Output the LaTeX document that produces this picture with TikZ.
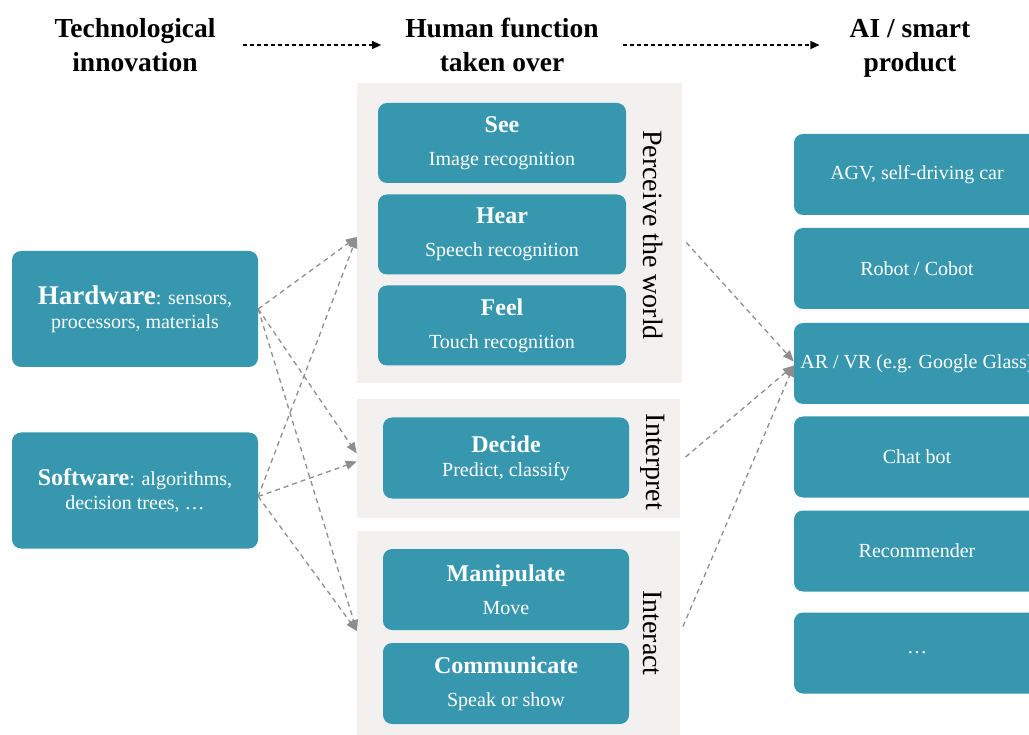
\documentclass[tikz,border=0pt]{standalone}
\usepackage{fontspec}
\setmainfont{Liberation Serif}
\usetikzlibrary{arrows.meta}
\definecolor{boxteal}{HTML}{3797AE}
\definecolor{panelgray}{HTML}{F2F1F0}
\definecolor{arrowgray}{HTML}{8E8E8E}
\tikzset{
  tealbox/.style={fill=boxteal, rounded corners=9pt, text=white, align=center,
    font=\fontsize{20}{24}\selectfont, inner sep=0pt},
  panel/.style={fill=panelgray, inner sep=0pt},
  hdr/.style={align=center, font=\fontsize{27.5}{34}\selectfont\bfseries, inner sep=0pt},
  sidelabel/.style={rotate=-90, font=\fontsize{28}{34}\selectfont, inner sep=0pt},
  hdrarrow/.style={line width=1.2pt, dash pattern=on 4pt off 3pt,
    -{Triangle[length=9pt,width=8pt]}},
  flow/.style={arrowgray, line width=1.3pt, dash pattern=on 5pt off 4pt,
    -{Triangle[length=11pt,width=9pt]}},
}
\newcommand{\boxtitle}[1]{{\fontsize{24}{29}\selectfont\bfseries #1}}
\begin{document}
\begin{tikzpicture}[x=1pt, y=-1pt]
 		\useasboundingbox (0,0) rectangle (1029,735);
 		\clip (0,0) rectangle (1029,735);
 		% column headers
 		\node[hdr] (tech) at (135,45) {Technological\\innovation};
 		\node[hdr] (human) at (502,45) {Human function\\taken over};
 		\node[hdr] (smart) at (910,48) {AI / smart\\product};
 		\draw[hdrarrow, shorten <=27pt, shorten >=24pt] (tech) -- (human);
 		\draw[hdrarrow, shorten <=24pt, shorten >=30pt] (human) -- ([yshift=3pt]smart.west);
 		% grey panels
 		\node[panel, minimum width=325pt, minimum height=300pt] (perceive) at (519.5,233) {};
 		\node[panel, minimum width=323pt, minimum height=118pt] (interpret) at (518.5,458.5) {};
 		\node[panel, minimum width=323pt, minimum height=204pt] (interact) at (518.5,633) {};
 		\node[sidelabel] (perceivelbl) at (653,235) {Perceive the world};
 		\node[sidelabel] (interpretlbl) at (653,462) {Interpret};
 		\node[sidelabel] (interactlbl) at (653,633) {Interact};
 		% left column
 		\node[tealbox, minimum width=246pt, minimum height=116pt] (hw) at (135,309)
 		  {{\fontsize{27}{32}\selectfont\bfseries Hardware}: sensors,\\processors, materials};
 		\node[tealbox, minimum width=246pt, minimum height=116pt] (sw) at (135,490.5)
 		  {{\fontsize{24}{29}\selectfont\bfseries Software}: algorithms,\\decision trees, \dots};
 		% middle column
 		\node[tealbox, minimum width=248pt, minimum height=80pt] (see) at (502,143) {\boxtitle{See}\\[9pt]Image recognition};
 		\node[tealbox, minimum width=248pt, minimum height=80pt] (hear) at (502,234.5) {\boxtitle{Hear}\\[9pt]Speech recognition};
 		\node[tealbox, minimum width=248pt, minimum height=80pt] (feel) at (502,325.5) {\boxtitle{Feel}\\[9pt]Touch recognition};
 		\node[tealbox, minimum width=246pt, minimum height=81pt] (decide) at (506,458) {\boxtitle{Decide}\\Predict, classify};
 		\node[tealbox, minimum width=246pt, minimum height=81pt] (manip) at (506,589.5) {\boxtitle{Manipulate}\\[9pt]Move};
 		\node[tealbox, minimum width=246pt, minimum height=81pt] (comm) at (506,683.5) {\boxtitle{Communicate}\\[9pt]Speak or show};
 		% right column
 		\node[tealbox, minimum width=246pt, minimum height=81pt] (agv) at (917,174.5) {AGV, self-driving car};
 		\node[tealbox, minimum width=246pt, minimum height=81pt] (robot) at (917,268.5) {Robot / Cobot};
 		\node[tealbox, minimum width=246pt, minimum height=81pt] (arvr) at (917,363.5) {AR / VR (e.g. Google Glass)};
 		\node[tealbox, minimum width=246pt, minimum height=81pt] (chat) at (917,457) {Chat bot};
 		\node[tealbox, minimum width=246pt, minimum height=81pt] (recom) at (917,551) {Recommender};
 		\node[tealbox, minimum width=246pt, minimum height=81pt] (more) at (917,653) {\dots};
 		% connectors
 		\draw[flow] (hw.east) -- ([yshift=-4pt]perceive.west);
 		\draw[flow] (hw.east) -- ([yshift=5pt]interpret.west);
 		\draw[flow] (hw.east) -- ([yshift=2pt]interact.west);
 		\draw[flow] ([yshift=-6pt]sw.east) -- ([yshift=-4pt]perceive.west);
 		\draw[flow] ([yshift=-6pt]sw.east) -- ([yshift=-3pt]interpret.west);
 		\draw[flow] ([yshift=-6pt]sw.east) -- ([yshift=2pt]interact.west);
 		\draw[flow, shorten <=6pt] ([yshift=-5pt]perceive.east) -- ([yshift=2pt]arvr.west);
 		\draw[flow, shorten <=7pt] ([yshift=-3pt]interpret.east) -- ([yshift=-2pt]arvr.west);
 		\draw[flow, shorten <=7pt] (interact.east) -- ([yshift=-2pt]arvr.west);
 		\end{tikzpicture}
\end{document}
